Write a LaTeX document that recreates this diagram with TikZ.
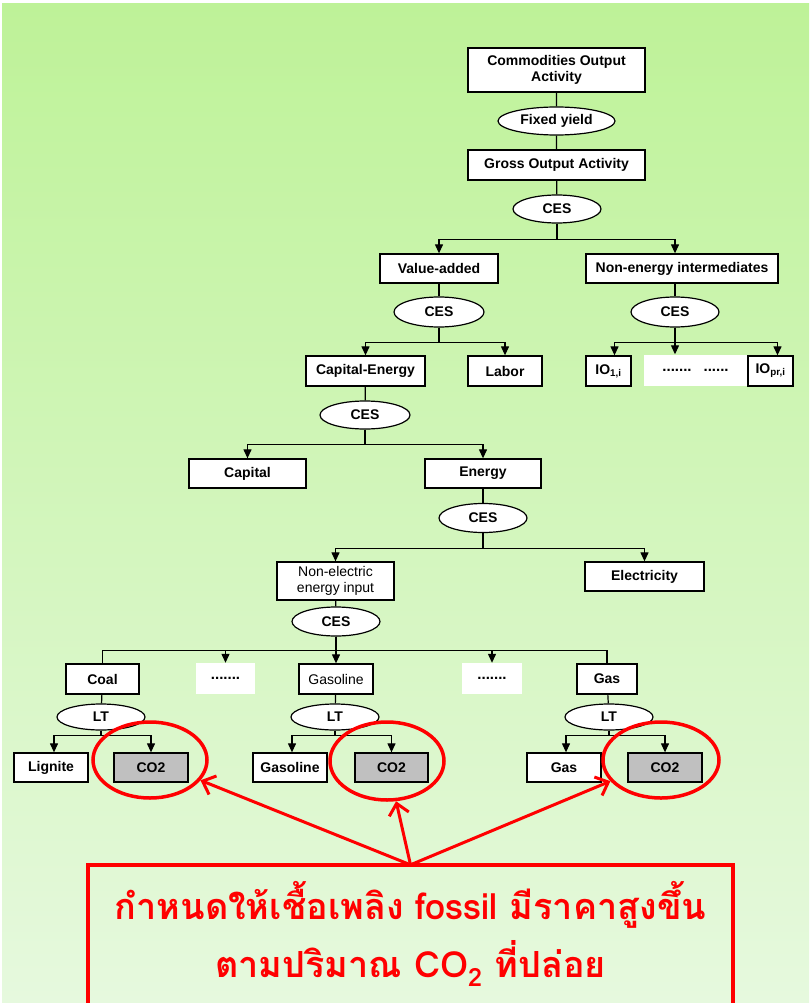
\documentclass[tikz,border=0pt]{standalone}
\usepackage{fontspec}
\setmainfont{Liberation Sans}
\newfontfamily\thaifont[Script=Thai]{Loma}
\usetikzlibrary{shapes,arrows.meta}

\definecolor{bgtop}{RGB}{190,242,152}
\definecolor{bgbot}{RGB}{230,249,222}
\definecolor{cogray}{RGB}{192,192,192}

\tikzset{
  box/.style={draw, line width=1.3pt, fill=white, inner sep=1pt, minimum height=30,
    font=\fontsize{14}{16}\selectfont\bfseries},
  plainbox/.style={box, font=\fontsize{14}{16}\selectfont},
  oval/.style={ellipse, draw, line width=1.2pt, fill=white, inner sep=0pt, minimum height=28,
    font=\fontsize{14}{16}\selectfont\bfseries},
  dotbox/.style={fill=white, inner sep=0pt, minimum height=31, font=\fontsize{15}{16}\selectfont\bfseries},
  link/.style={line width=1.2pt},
  feed/.style={line width=1.2pt, -{Triangle[length=9pt,width=8pt]}},
  ring/.style={ellipse, draw=red, line width=3.5pt, inner sep=0pt},
  pointer/.style={draw=red, line width=3pt, -{Straight Barb[length=11pt,width=20pt]}},
  note/.style={inner sep=0pt, align=center, text=red, font=\thaifont\bfseries\fontsize{36}{58}\selectfont},
  redframe/.style={draw=red, line width=4pt},
}

\begin{document}
\begin{tikzpicture}[x=1pt,y=-1pt]
\useasboundingbox (0,0) rectangle (809,1003);
\fill[white] (0,0) rectangle (809,1003);
\shade[top color=bgtop, bottom color=bgbot] (2,4) rectangle (809,1003);

% top of the tree
\draw(556.5,70) node[box, minimum width=177, minimum height=44, align=center] (com) {Commodities Output\\Activity};
\draw(556.5,121) node[oval, minimum width=117] (fy) {Fixed yield};
\draw(556.5,165) node[box, minimum width=177] (gross) {Gross Output Activity};
\draw(557,209) node[oval, minimum width=88] (ces1) {CES};

\draw(439,268.5) node[box, minimum width=118, minimum height=29] (va) {Value-added};
\draw(682,268.5) node[box, minimum width=192, minimum height=29] (nei) {Non-energy intermediates};
\draw(439,312) node[oval, minimum width=90, minimum height=30] (vcs) {CES};
\draw(675,312) node[oval, minimum width=88, minimum height=30] (ncs) {CES};

\draw(365.5,371) node[box, minimum width=119] (ce) {Capital-Energy};
\draw(505,371) node[box, minimum width=74] (lab) {Labor};
\draw(608.5,371) node[box, minimum width=45] (io1) {IO\textsubscript{1,i}};
\draw(695.5,370) node[dotbox, minimum width=103] (iodots) {.......\hspace{12pt}......};
\draw(770.5,371) node[box, minimum width=45] (iopr) {IO\textsubscript{pr,i}};

\draw(365,415) node[oval, minimum width=90] (ccs) {CES};
\draw(247.5,473.5) node[box, minimum width=117, minimum height=29] (cap) {Capital};
\draw(483,473.5) node[box, minimum width=116, minimum height=29] (en) {Energy};
\draw(483,518) node[oval, minimum width=88, minimum height=29] (ecs) {CES};

\draw(335.5,581) node[plainbox, minimum width=117, minimum height=38, align=center] (nee) {Non-electric\\energy input};
\draw(644.5,576.5) node[box, minimum width=119, minimum height=29] (el) {Electricity};
\draw(336,621.5) node[oval, minimum width=88, minimum height=29] (fcs) {CES};

% fuels
\draw(102.5,679) node[box, minimum width=73] (coal) {Coal};
\draw(225.5,678.5) node[dotbox, minimum width=59] (dots1) {.......};
\draw(336,679) node[plainbox, minimum width=74] (gaso) {Gasoline};
\draw(492,678.5) node[dotbox, minimum width=60] (dots2) {.......};
\draw(607,679) node[box, minimum width=60] (gas) {Gas};

\draw(101,717) node[oval, minimum width=88, minimum height=26] (lt1) {LT};
\draw(335,717) node[oval, minimum width=88, minimum height=26] (lt2) {LT};
\draw(609,717) node[oval, minimum width=88, minimum height=26] (lt3) {LT};

\draw(51,767.5) node[box, minimum width=74, minimum height=29] (lig) {Lignite};
\draw(151,767.5) node[box, fill=cogray, minimum width=74, minimum height=29] (co2a) {CO2};
\draw(290,767.5) node[box, minimum width=74, minimum height=29] (gasob) {Gasoline};
\draw(391.5,767.5) node[box, fill=cogray, minimum width=73, minimum height=29] (co2b) {CO2};
\draw(564,767.5) node[box, minimum width=74, minimum height=29] (gasb) {Gas};
\draw(665,767.5) node[box, fill=cogray, minimum width=74, minimum height=29] (co2c) {CO2};

% connectors
\draw[link] (com) -- (fy) -- (gross) -- (ces1);
\draw[feed] (ces1.south) -- ++(0,16) -| (va.north);
\draw[feed] (ces1.south) -- ++(0,16) -| (ncs |- nei.north);
\draw[link] (va) -- (vcs);
\draw[link] (ncs |- nei.south) -- (ncs);
\draw[feed] (vcs.south) -- ++(0,15) -| (ce.north);
\draw[feed] (vcs.south) -- ++(0,15) -| (lab.north);
\draw[feed] (ncs.south) -- ++(0,15) -| ([xshift=6pt]io1.north);
\draw[feed] (ncs.south) -- (ncs |- iodots.north);
\draw[feed] (ncs.south) -- ++(0,15) -| ([xshift=7pt]iopr.north);
\draw[link] (ce) -- (ccs);
\draw[feed] (ccs.south) -- ++(0,15) -| (cap.north);
\draw[feed] (ccs.south) -- ++(0,15) -| (en.north);
\draw[link] (en) -- (ecs);
\draw[feed] (ecs.south) -- ++(0,15) -| (nee.north);
\draw[feed] (ecs.south) -- ++(0,15) -| (el.north);
\draw[link] (nee) -- (fcs);
\draw[link] (fcs.south) -- ++(0,14) -| (coal.north);
\draw[link] (fcs.south) -- ++(0,14) -| (gas.north);
\draw[feed] (fcs.south) -- ++(0,14) -| (dots1.north);
\draw[feed] (fcs.south) -- ++(0,14) -| (dots2.north);
\draw[feed] (fcs.south) -- (gaso.north);

\draw[link] (coal) -- (lt1);
\draw[link] (gaso) -- (lt2);
\draw[link] (gas) -- (lt3);
\draw[feed] (lt1.south) -- ++(0,5) -| ([xshift=3pt]lig.north);
\draw[feed] (lt1.south) -- ++(0,5) -| (co2a.north);
\draw[feed] (lt2.south) -- ++(0,5) -| ([xshift=2pt]gasob.north);
\draw[feed] (lt2.south) -- ++(0,5) -| (co2b.north);
\draw[feed] (lt3.south) -- ++(0,5) -| ([xshift=2pt]gasb.north);
\draw[feed] (lt3.south) -- ++(0,5) -| (co2c.north);

% carbon price note
\draw(150,760) node[ring, minimum width=114, minimum height=76] (ring1) {};
\draw(387,761) node[ring, minimum width=114, minimum height=78] (ring2) {};
\draw(661,760) node[ring, minimum width=116, minimum height=76] (ring3) {};

\draw(410.5,934) node[note, minimum width=645, minimum height=138] (note) {กำหนดให้เชื้อเพลิง fossil มีราคาสูงขึ้น\\ตามปริมาณ CO\textsubscript{2} ที่ปล่อย};
\draw[redframe] ([yshift=-20pt]note.south west) -- (note.north west) -- (note.north east) -- ([yshift=-20pt]note.south east);
\draw[pointer] (note.north) -- (ring1);
\draw[pointer] (note.north) -- (ring2);
\draw[pointer] (note.north) -- (ring3);

\end{tikzpicture}
\end{document}
